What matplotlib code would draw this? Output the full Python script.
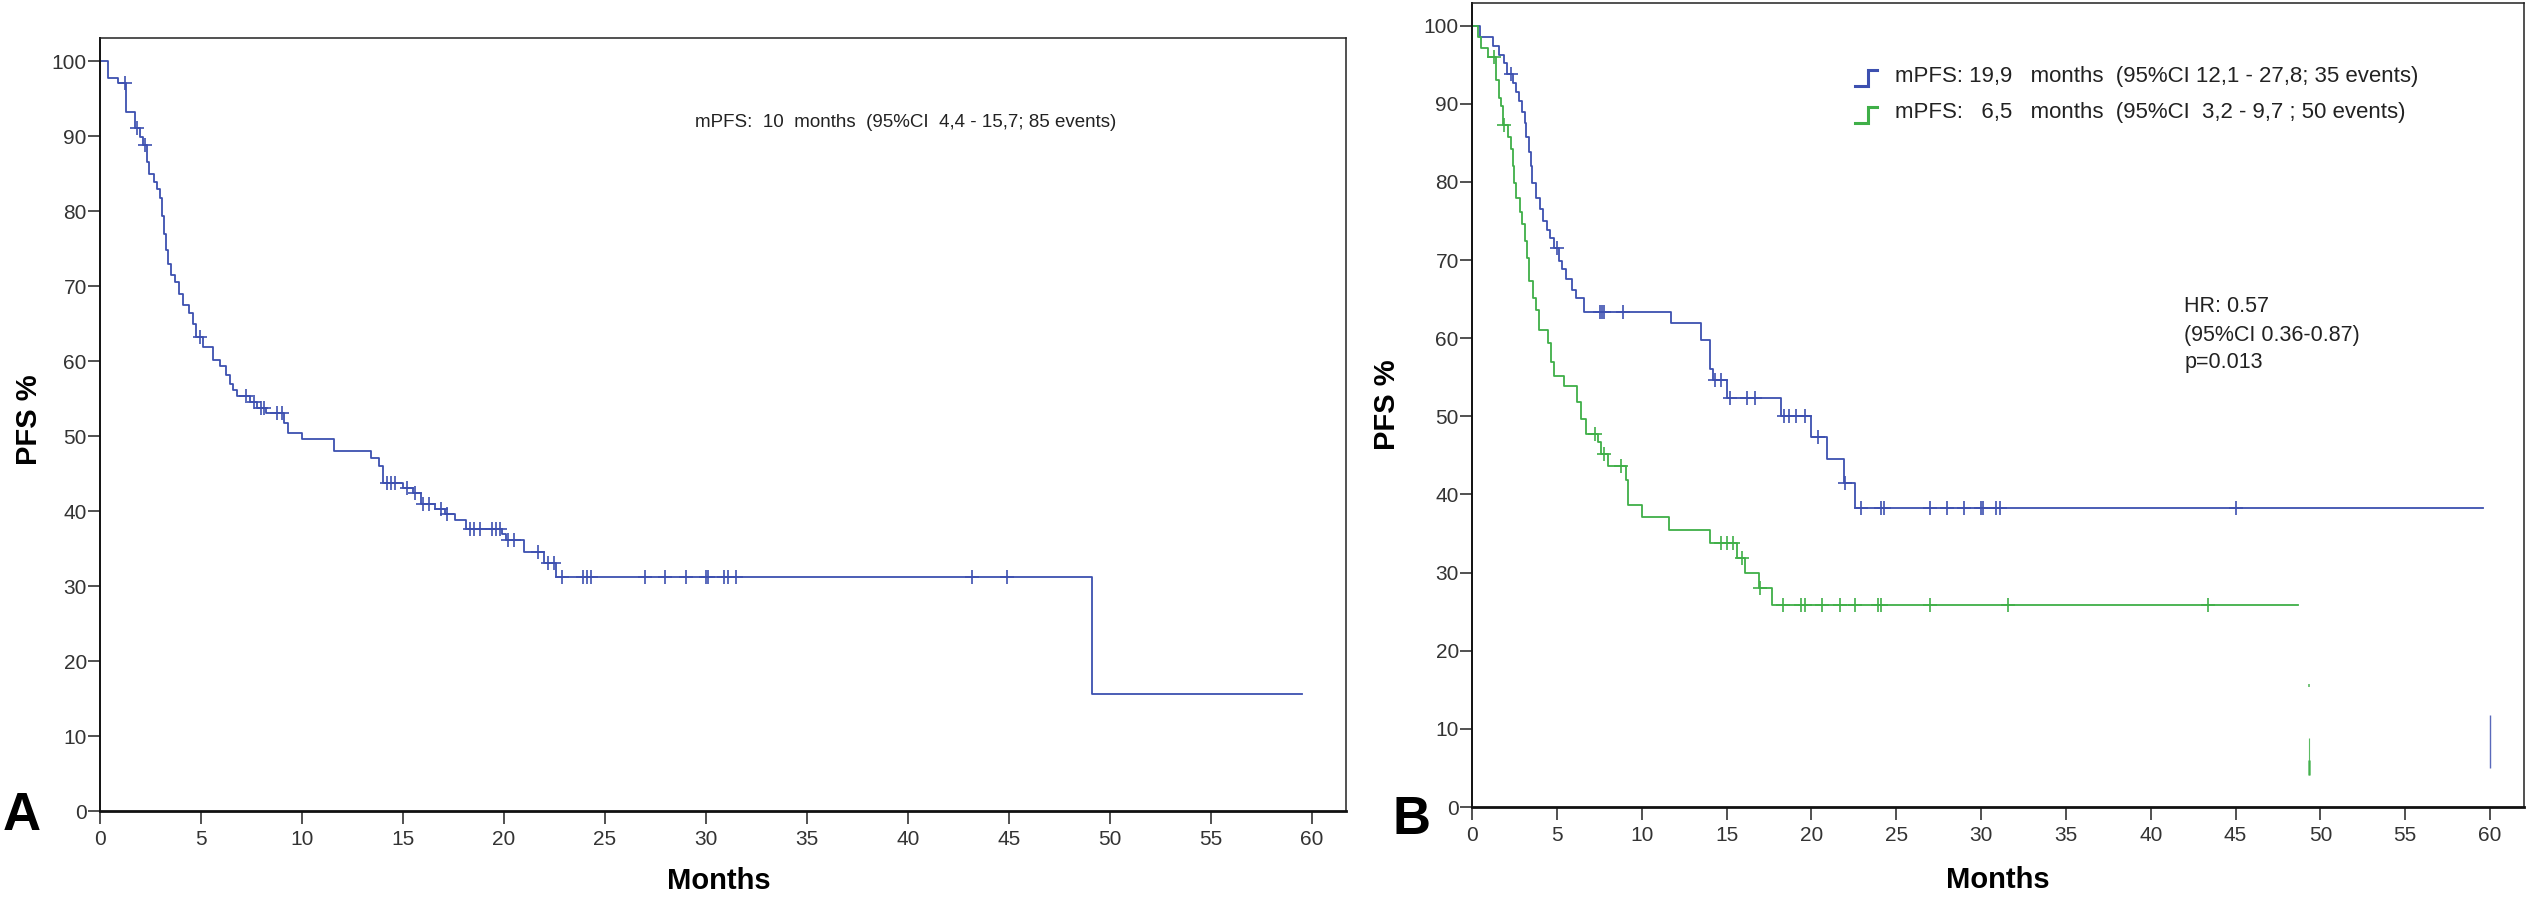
import numpy as np
import matplotlib
matplotlib.use("Agg")
import matplotlib.pyplot as plt
from matplotlib.lines import Line2D
from matplotlib.legend_handler import HandlerBase
from matplotlib import font_manager as fm

# ---------------- data ----------------
# Panel A: single KM curve (event times in months, PFS % after each step)
a_times = [0.4, 0.9, 1.3, 1.73, 1.98, 2.15, 2.35, 2.45, 2.65, 2.8, 2.95, 3.05, 3.15,
           3.25, 3.35, 3.5, 3.7, 3.9, 4.1, 4.4, 4.6, 4.75, 5.1, 5.6, 5.95, 6.25, 6.45,
           6.6, 6.8, 7.45, 7.75, 8.2, 9.1, 9.3, 10.0, 11.6, 13.4, 13.8, 14.0, 15.0,
           15.5, 15.9, 16.6, 17.1, 17.6, 18.1, 19.9, 20.1, 21.0, 22.0, 22.6, 49.1]
a_surv = [97.8, 97.1, 93.2, 91.1, 89.9, 88.8, 86.5, 85.0, 83.9, 83.0, 81.8, 79.3, 76.9,
          74.8, 73.0, 71.5, 70.5, 68.9, 67.5, 66.4, 64.9, 63.2, 61.9, 60.2, 59.4, 58.2,
          57.0, 56.1, 55.3, 54.6, 53.8, 53.1, 51.8, 50.4, 49.6, 48.0, 47.1, 46.0, 43.8,
          43.1, 42.4, 41.0, 40.3, 39.6, 38.8, 37.6, 36.9, 36.2, 34.6, 33.1, 31.2, 15.6]
a_end = 59.5
a_censor = [1.24, 1.82, 2.25, 4.96, 7.24, 7.65, 7.95, 8.1, 8.75, 9.0, 14.2, 14.4, 14.6,
            15.2, 15.6, 16.0, 16.3, 16.9, 17.2, 18.3, 18.5, 18.8, 19.4, 19.6, 19.8, 20.2,
            20.5, 21.7, 22.2, 22.5, 22.9, 23.9, 24.1, 24.3, 27.0, 28.0, 29.0, 30.0, 30.1,
            30.9, 31.1, 31.5, 43.2, 44.9]

# Panel B: blue group
b1_times = [0.45, 1.23, 1.6, 1.9, 2.05, 2.4, 2.6, 2.75, 2.95, 3.1, 3.2, 3.35, 3.5, 3.55,
            3.75, 4.0, 4.2, 4.4, 4.6, 4.85, 5.13, 5.32, 5.52, 5.9, 6.1, 6.6, 11.7, 13.5,
            14.0, 14.2, 15.0, 18.2, 19.97, 20.9, 21.9, 22.6]
b1_surv = [98.5, 97.4, 96.3, 95.2, 93.8, 92.6, 91.5, 90.4, 89.0, 87.5, 85.7, 83.8, 82.0,
           79.8, 77.9, 76.5, 75.0, 73.9, 72.8, 71.5, 69.9, 68.8, 67.6, 66.2, 65.1, 63.3,
           61.9, 59.8, 56.1, 54.6, 52.4, 50.1, 47.3, 44.5, 41.5, 38.3]
b1_end = 59.6
b1_censor = [2.3, 5.03, 7.56, 7.66, 7.8, 8.9, 14.35, 14.7, 15.2, 16.2, 16.7, 18.4, 18.7,
             19.1, 19.6, 20.4, 22.0, 22.9, 24.1, 24.3, 27.0, 28.0, 29.0, 30.0, 30.1, 30.9,
             31.1, 45.0]

# Panel B: green group
b2_times = [0.35, 0.55, 0.95, 1.42, 1.62, 1.72, 1.82, 2.15, 2.3, 2.4, 2.45, 2.6, 2.8, 2.95,
            3.15, 3.25, 3.35, 3.6, 3.8, 3.93, 4.45, 4.65, 4.85, 5.42, 6.2, 6.4, 6.7, 7.4,
            7.6, 8.0, 9.05, 9.22, 10.0, 11.6, 14.0, 15.6, 16.1, 16.9, 17.7]
b2_surv = [98.5, 97.1, 96.0, 93.0, 90.8, 89.7, 87.3, 85.7, 84.2, 82.0, 79.8, 77.9, 76.1,
           74.6, 72.4, 70.2, 67.3, 65.1, 63.6, 61.0, 59.4, 57.0, 55.1, 53.9, 51.8, 49.6,
           47.8, 46.7, 45.2, 43.6, 41.9, 38.6, 37.1, 35.4, 33.8, 31.9, 29.9, 28.0, 25.8]
b2_end = 48.7
b2_censor = [1.29, 1.91, 7.27, 7.8, 8.8, 14.7, 15.05, 15.4, 15.9, 17.0, 18.3, 19.4, 19.6,
             20.6, 21.7, 22.6, 23.9, 24.1, 27.0, 31.6, 43.4]

# stray vertical fragments visible in panel B (x, y_low, y_high)
b_frag_x = [49.3, 49.3, 49.3, 60.0]
b_frag_lo = [4.1, 4.1, 15.4, 5.0]
b_frag_hi = [8.8, 6.0, 15.8, 11.8]
b_frag_col = ["green", "green", "green", "blue"]
b_frag_lw = [0.8, 1.8, 1.2, 1.0]

x_ticks = list(range(0, 61, 5))
y_ticks = list(range(0, 101, 10))

text_a = "mPFS:  10  months  (95%CI  4,4 - 15,7; 85 events)"
legend_b = ["mPFS: 19,9   months  (95%CI 12,1 - 27,8; 35 events)",
            "mPFS:   6,5   months  (95%CI  3,2 - 9,7 ; 50 events)"]
hr_lines = ["HR: 0.57", "(95%CI 0.36-0.87)", "p=0.013"]

# ---------------- style ----------------
BLUE = "#3d50b0"
GREEN = "#3faf48"
COLS = {"blue": BLUE, "green": GREEN}

names = {f.name for f in fm.fontManager.ttflist}
NARROW = "Liberation Sans Narrow" if "Liberation Sans Narrow" in names else "Liberation Sans"
REG = "Liberation Sans"

W, H = 2529, 897
fig = plt.figure(figsize=(W / 100, H / 100), dpi=100)
fig.patch.set_facecolor("white")

axA = fig.add_axes([100 / W, (H - 811) / H, (1346 - 100) / W, (811 - 38) / H])
axB = fig.add_axes([1472 / W, (H - 807) / H, (2524 - 1472) / W, (807 - 3) / H])


def km_xy(times, surv, end):
    xs = [0.0] + list(times) + [end]
    ys = [100.0] + list(surv) + [surv[-1]]
    return xs, ys


def censor_levels(times, surv, cens):
    t = np.asarray(times)
    s = np.concatenate([[100.0], np.asarray(surv)])
    idx = np.searchsorted(t, np.asarray(cens), side="right")
    return s[idx]


def style_axes(ax, xmax, ymax):
    ax.set_xlim(0, xmax)
    ax.set_ylim(0, ymax)
    ax.set_xticks(x_ticks)
    ax.set_yticks(y_ticks)
    for side in ["left", "bottom"]:
        ax.spines[side].set_linewidth(1.4)
        ax.spines[side].set_color("#111111")
    for side in ["top", "right"]:
        ax.spines[side].set_linewidth(1.1)
        ax.spines[side].set_color("#222222")
    ax.spines["bottom"].set_linewidth(2.0)
    ax.tick_params(axis="x", direction="out", length=9.5, width=1.1, pad=4,
                   labelsize=15, labelcolor="#333333", color="#222222")
    ax.tick_params(axis="y", direction="out", length=8.5, width=1.1, pad=1,
                   labelsize=15, labelcolor="#333333", color="#222222")
    for lab in ax.get_xticklabels() + ax.get_yticklabels():
        lab.set_family(NARROW)
    ax.set_xlabel("Months", fontsize=21, fontweight="bold", family=REG)
    ax.set_ylabel("PFS %", fontsize=21, fontweight="bold", family=REG)
    ax.xaxis.label.set_va("center")
    ax.yaxis.label.set_va("center")


# ---- Panel A ----
xs, ys = km_xy(a_times, a_surv, a_end)
axA.plot(xs, ys, drawstyle="steps-post", color=BLUE, lw=1.3)
axA.plot(a_censor, censor_levels(a_times, a_surv, a_censor), ls="none", marker="+",
         ms=10, mew=1.2, color=BLUE)
style_axes(axA, 61.7, 103.1)
axA.xaxis.set_label_coords(0.497, -0.0906)
axA.yaxis.set_label_coords(-0.057, 0.506)
axA.text(0.4775, 0.891, text_a, transform=axA.transAxes, fontsize=13.5, family=REG,
         color="#222222", va="center", ha="left")

# ---- Panel B ----
xs, ys = km_xy(b1_times, b1_surv, b1_end)
lb1, = axB.plot(xs, ys, drawstyle="steps-post", color=BLUE, lw=1.3)
axB.plot(b1_censor, censor_levels(b1_times, b1_surv, b1_censor), ls="none", marker="+",
         ms=10, mew=1.2, color=BLUE)
xs, ys = km_xy(b2_times, b2_surv, b2_end)
lb2, = axB.plot(xs, ys, drawstyle="steps-post", color=GREEN, lw=1.3)
axB.plot(b2_censor, censor_levels(b2_times, b2_surv, b2_censor), ls="none", marker="+",
         ms=10, mew=1.2, color=GREEN)
axB.vlines(b_frag_x, b_frag_lo, b_frag_hi, colors=[COLS[c] for c in b_frag_col],
           linewidths=b_frag_lw, alpha=0.85)
style_axes(axB, 62.0, 102.9)
axB.xaxis.set_label_coords(0.5, -0.091)
axB.yaxis.set_label_coords(-0.081, 0.5)


class HandlerStep(HandlerBase):
    def create_artists(self, legend, orig_handle, xdescent, ydescent, width, height,
                       fontsize, trans):
        x0, y0 = -xdescent, -ydescent - 0.3 * height
        xm = x0 + 0.6 * width
        ln = Line2D([x0, xm, xm, x0 + width],
                    [y0, y0, y0 + 1.05 * height, y0 + 1.05 * height],
                    color=orig_handle.get_color(), lw=2.2, transform=trans,
                    solid_joinstyle="miter")
        return [ln]


leg = axB.legend([lb1, lb2], legend_b, loc="upper left", bbox_to_anchor=(0.364, 0.922),
                 frameon=False, borderpad=0, borderaxespad=0, handlelength=1.0,
                 handletextpad=0.8, labelspacing=0.70, prop={"family": REG, "size": 16},
                 handler_map={Line2D: HandlerStep()})
for t in leg.get_texts():
    t.set_color("#222222")

hr_y = [0.622, 0.587, 0.553]
for txt, yy in zip(hr_lines, hr_y):
    axB.text(0.677, yy, txt, transform=axB.transAxes, fontsize=15.5, family=REG,
             color="#222222", va="center", ha="left")

# panel letters
fig.text(3 / W, (H - 830) / H, "A", fontsize=38, fontweight="bold", family=REG,
         va="baseline", ha="left")
fig.text(1393 / W, (H - 834) / H, "B", fontsize=38, fontweight="bold", family=REG,
         va="baseline", ha="left")

fig.savefig("out.png", dpi=100, facecolor="white")
